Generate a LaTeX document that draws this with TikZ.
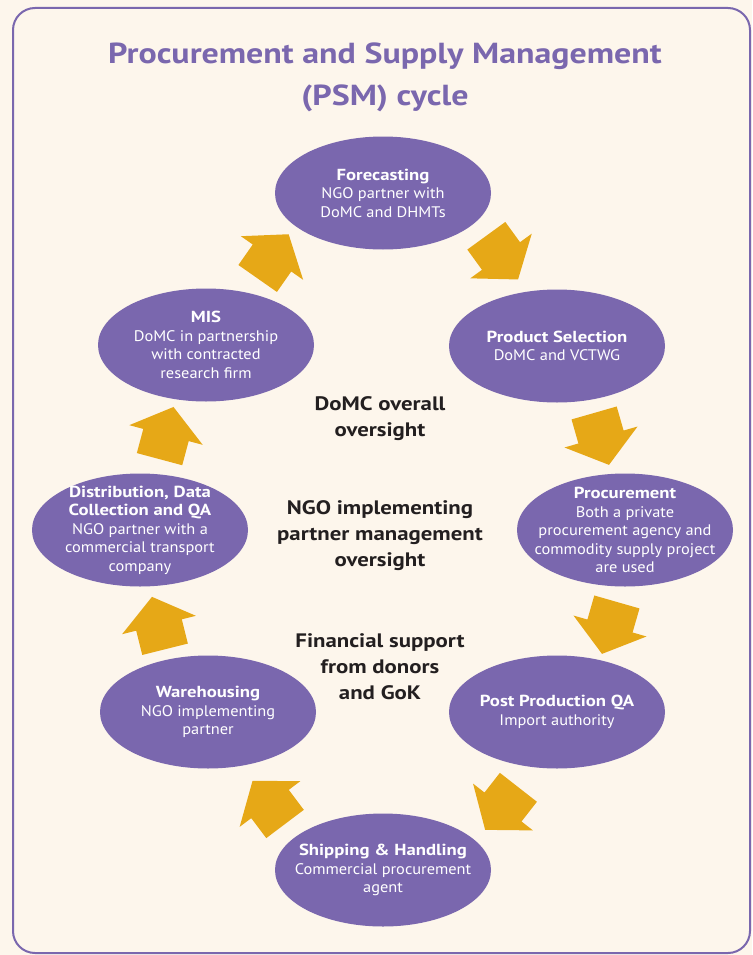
\documentclass[tikz,border=0pt]{standalone}
\usepackage{fontspec}
\setmainfont{PT Sans}[FakeStretch=1.07, BoldFeatures={FakeStretch=1.17}]
\usetikzlibrary{shapes.geometric}
\definecolor{psmpurple}{RGB}{122,103,174}
\definecolor{psmgold}{RGB}{230,168,23}
\definecolor{psmcream}{RGB}{253,246,236}
\definecolor{psmtext}{RGB}{35,31,32}
\newcommand{\stagehead}[1]{{\fontsize{16}{18.5}\selectfont\bfseries #1}}
\begin{document}
\begin{tikzpicture}[x=1pt,y=-1pt,
    stage/.style={ellipse, fill=psmpurple, text=white, minimum width=216pt, minimum height=113pt,
      inner sep=-20pt, align=center, font=\fontsize{15.3}{18.5}\selectfont},
    oversight/.style={align=center, text=psmtext, font=\bfseries\fontsize{19.5}{26}\selectfont},
    heading/.style={align=center, text=psmpurple, font=\bfseries\fontsize{29}{42}\selectfont}]
    \useasboundingbox (0,0) rectangle (752,955);
    \fill[psmcream] (0,0) rectangle (752,955);
    \draw[psmpurple, line width=2pt, rounded corners=22pt] (13,8) rectangle (750,953);
    \node[heading] (title) at (385,77) {Procurement and Supply Management\\(PSM) cycle};
    % the eight stages of the cycle
    \node[stage] (fore) at (383,193) {\stagehead{Forecasting}\\NGO partner with\\DoMC and DHMTs};
    \node[stage] (prodsel) at (557,346) {\stagehead{Product Selection}\\DoMC and VCTWG};
    \node[stage] (proc) at (625,530) {\stagehead{Procurement}\\Both a private\\procurement agency and\\commodity supply project\\are used};
    \node[stage] (postqa) at (557,712) {\stagehead{Post Production QA}\\Import authority};
    \node[stage] (ship) at (383,870) {\stagehead{Shipping \& Handling}\\Commercial procurement\\agent};
    \node[stage] (ware) at (208,712) {\stagehead{Warehousing}\\NGO implementing\\partner};
    \node[stage] (dist) at (140,530) {\stagehead{Distribution, Data}\\\stagehead{Collection and QA}\\NGO partner with a\\commercial transport\\company};
    \node[stage] (mis) at (206,345) {\stagehead{MIS}\\DoMC in partnership\\with contracted\\research firm};
    % oversight in the middle
    \node[oversight] (domc) at (380,419) {DoMC overall\\oversight};
    \node[oversight] (ngo) at (380,536) {NGO implementing\\partner management\\oversight};
    \node[oversight] (fin) at (380,667) {Financial support\\from donors\\and GoK};
    % block arrows between the stages
    \foreach \x/\y/\a in {272/258/55, 501/256/-54, 601/437/-74, 610/626/-106,
                          503/807/-128, 270/804/127, 159/625/104, 166/435/75}
        \fill[psmgold, shift={(\x,\y)}, rotate=\a] (-25,-23.5) -- (0,-23.5) -- (0,-38) -- (29,0)
            -- (0,38) -- (0,23.5) -- (-25,23.5) -- cycle;
\end{tikzpicture}
\end{document}
